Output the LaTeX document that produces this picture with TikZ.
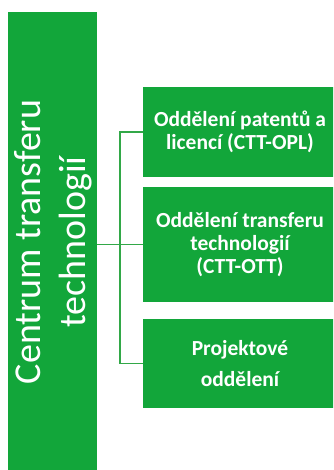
\documentclass[tikz,border=0pt]{standalone}
\usepackage{fontspec}
\setmainfont{Carlito}
\definecolor{ggreen}{RGB}{18,166,58}
\definecolor{lgreen}{RGB}{50,168,72}
\tikzset{
  gbox/.style={fill=ggreen, draw=none, inner sep=0pt, outer sep=0pt},
  boxtext/.style={text=white, align=center, font=\bfseries\fontsize{21.5}{23}\selectfont, inner sep=0pt},
  bartext/.style={text=white, align=center, font=\fontsize{38}{45}\selectfont, inner sep=0pt},
  conn/.style={draw=lgreen, line width=1.2pt}
}
\begin{document}
\begin{tikzpicture}[x=1pt,y=-1pt]
\useasboundingbox (0,0) rectangle (333,470);
\begin{scope}
\clip (0,0) rectangle (333,470);
\node[gbox, minimum width=89pt, minimum height=468pt] (bar) at (52.5,246) {};
\node[bartext, rotate=90] (bartxt) at (53,242) {Centrum transferu\\technologií};
\node[gbox, minimum width=194pt, minimum height=90pt] (b1) at (240,132) {};
\node[boxtext] (t1) at (b1.center) {Oddělení patentů a\\licencí (CTT-OPL)};
\node[gbox, minimum width=194pt, minimum height=115pt] (b2) at (240,244.5) {};
\node[boxtext] (t2) at (b2.center) {Oddělení transferu\\technologií\\(CTT-OTT)};
\node[gbox, minimum width=194pt, minimum height=89pt] (b3) at (240,363.5) {};
\node[boxtext, font=\bfseries\fontsize{21.5}{31.5}\selectfont] (t3) at (b3.center) {Projektové\\oddělení};
\coordinate (j) at (120,0);
\draw[conn] (bar.east |- b2.west) -- (b2.west);
\draw[conn] (b1.west) -- (b1.west -| j) -- (b3.west -| j) -- (b3.west);
\end{scope}
\end{tikzpicture}
\end{document}
